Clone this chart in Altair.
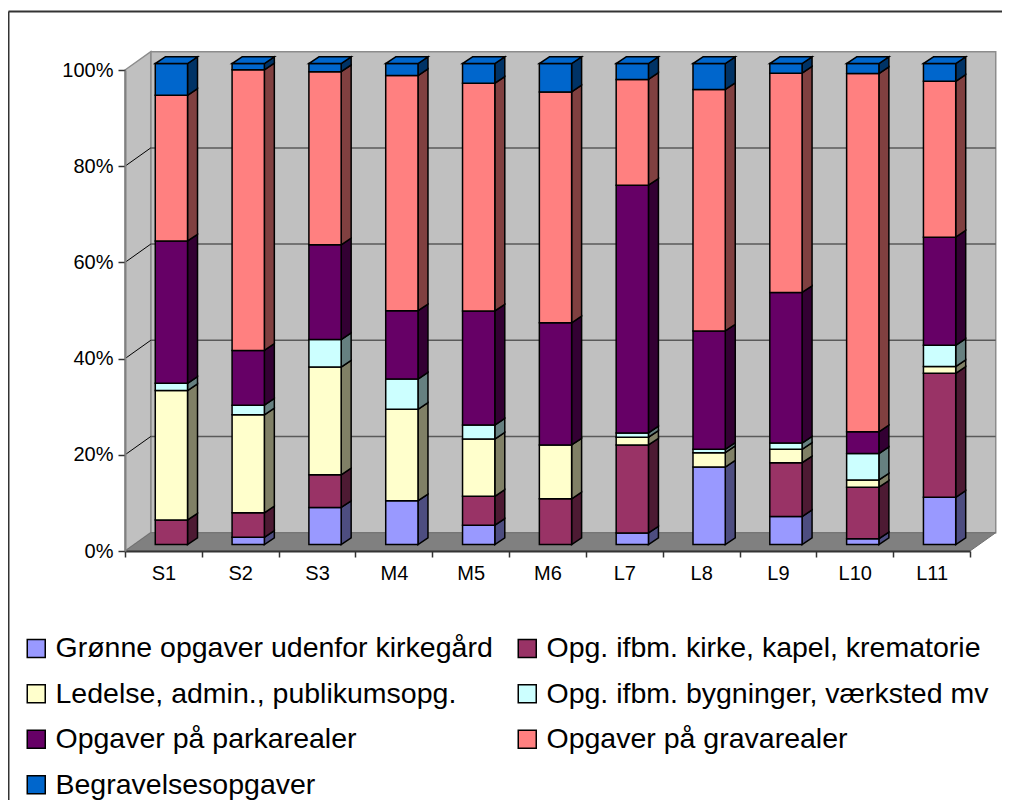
import json
import altair as alt
import pandas as pd

# ---------------- data ----------------
categories = ["S1", "S2", "S3", "M4", "M5", "M6", "L7", "L8", "L9", "L10", "L11"]
series_names = [
    "Grønne opgaver udenfor kirkegård",
    "Opg. ifbm. kirke, kapel, krematorie",
    "Ledelse, admin., publikumsopg.",
    "Opg. ifbm. bygninger, værksted mv",
    "Opgaver på parkarealer",
    "Opgaver på gravarealer",
    "Begravelsesopgaver",
]
gronne = [0.0, 1.5, 7.7, 9.1, 4.0, 0.0, 2.4, 16.1, 5.8, 1.2, 9.8]
kirke = [5.1, 5.1, 6.8, 0.0, 6.0, 9.5, 18.3, 0.0, 11.2, 10.7, 25.8]
ledelse = [26.9, 20.4, 22.4, 19.0, 11.9, 11.2, 1.6, 3.0, 2.8, 1.5, 1.4]
bygninger = [1.5, 2.0, 5.7, 6.3, 2.9, 0.0, 0.9, 0.7, 1.3, 5.5, 4.4]
park = [29.6, 11.4, 19.7, 14.2, 23.7, 25.4, 51.5, 24.6, 31.3, 4.5, 22.5]
grav = [30.3, 58.4, 36.0, 48.9, 47.3, 48.0, 22.0, 50.2, 45.6, 74.4, 32.4]
begrav = [6.6, 1.3, 1.7, 2.5, 4.1, 5.9, 3.3, 5.4, 2.0, 2.1, 3.7]
series_values = [gronne, kirke, ledelse, bygninger, park, grav, begrav]
y_ticks = [0, 20, 40, 60, 80, 100]

# ---------------- style ----------------
front_colors = ["#9999FF", "#993366", "#FFFFCC", "#CCFFFF", "#660066", "#FF8080", "#0066CC"]
side_colors = ["#4D4D80", "#4D1A33", "#808066", "#668080", "#330033", "#804040", "#003366"]
FONT = "Liberation Sans"
N = len(categories)
PLOT_W, PLOT_H = 845, 481
PAD = {"left": 117, "top": 62, "right": 32, "bottom": 249}
BAR_W = 0.42            # front face width (category units)
BX, BY = 0.104, 1.35    # bar recess from the front plane
DX, DY = 0.130, 1.39    # bar depth
WX, WY = 0.335, 3.80    # wall depth

# legend is laid out column by column: order entries so rows read like the original
legend_order = series_names[0::2] + series_names[1::2]

# ---------------- geometry tables ----------------
front_rows, side_rows, top_rows = [], [], []
for i, cat in enumerate(categories):
    vals = [s[i] for s in series_values]
    total = sum(vals)
    xl = i + 0.5 - BAR_W / 2 + BX
    xr = xl + BAR_W
    last = max(k for k, v in enumerate(vals) if v > 0)
    cum = 0.0
    for k, (name, v) in enumerate(zip(series_names, vals)):
        if v <= 0:
            continue
        y0 = cum / total * 100
        cum += v
        y1 = cum / total * 100
        front_rows.append(dict(cat=cat, series=name, x=xl, x2=xr, y=y0 + BY, y2=y1 + BY, value=v))
        seg = f"{cat}-{k}"
        side_rows.append(dict(seg=seg, series=name, x=xr, lo=y0 + BY, hi=y1 + BY))
        side_rows.append(dict(seg=seg, series=name, x=xr + DX, lo=y0 + BY + DY, hi=y1 + BY + DY))
        if k == last:
            top_rows.append(dict(seg=cat, y=y1 + BY, xa=xl, xb=xr))
            top_rows.append(dict(seg=cat, y=y1 + BY + DY, xa=xl + DX, xb=xr + DX))

front_df = pd.DataFrame(front_rows)
side_df = pd.DataFrame(side_rows)
top_df = pd.DataFrame(top_rows)

ymax = max(y_ticks)
wall_df = pd.DataFrame([dict(x=WX, x2=N + WX, y=WY, y2=ymax + WY)])
sidewall_df = pd.DataFrame([dict(x=0, lo=0, hi=ymax), dict(x=WX, lo=WY, hi=ymax + WY)])
floor_df = pd.DataFrame([
    dict(x=0, lo=0, hi=0), dict(x=WX, lo=0, hi=WY),
    dict(x=N, lo=0, hi=WY), dict(x=N + WX, lo=WY, hi=WY)])
grid_df = pd.DataFrame([dict(x=WX, x2=N + WX, y=t + WY) for t in y_ticks[1:-1]])
diag_df = pd.DataFrame([dict(x=0, x2=WX, y=t, y2=t + WY) for t in y_ticks[1:-1]])

# ---------------- scales / axes ----------------
xs = alt.Scale(domain=[0, N], nice=False, zero=False)
ys = alt.Scale(domain=[0, ymax], nice=False, zero=True)
cat_expr = json.dumps(categories)
x_axis = alt.Axis(values=list(range(N + 1)),
                  labelExpr=f"datum.value < {N} ? {cat_expr}[datum.value] : ''",
                  title=None, grid=False, tickSize=6, tickColor="#333333", tickWidth=1.5,
                  domainColor="#333333", domainWidth=2, labelFontSize=20, labelFont=FONT,
                  labelColor="black", labelOffset=PLOT_W / N / 2, labelPadding=6,
                  labelFlush=False, labelOverlap=False, zindex=1)
y_axis = alt.Axis(values=y_ticks, labelExpr="datum.value + '%'", title=None, grid=False,
                  tickSize=7, tickColor="#333333", tickWidth=1.5, domainColor="#808080",
                  domainWidth=2, labelFontSize=20, labelFont=FONT, labelColor="black",
                  labelPadding=5, zindex=1)


def X(f):
    return alt.X(f, scale=xs, axis=x_axis)


def Y(f):
    return alt.Y(f, scale=ys, axis=y_axis)


wall = alt.Chart(wall_df).mark_rect(fill="#C0C0C0", stroke="#8C8C8C", strokeWidth=1.5).encode(
    x=X("x:Q"), x2="x2:Q", y=Y("y:Q"), y2="y2:Q")
sidewall = alt.Chart(sidewall_df).mark_area(fill="#C0C0C0", stroke="#8C8C8C", strokeWidth=1.5,
                                            orient="vertical").encode(
    x=X("x:Q"), y=Y("hi:Q"), y2="lo:Q")
floor = alt.Chart(floor_df).mark_area(fill="#808080", stroke="#707070", strokeWidth=1,
                                      orient="vertical").encode(
    x=X("x:Q"), y=Y("hi:Q"), y2="lo:Q")
grid = alt.Chart(grid_df).mark_rule(color="#5A5A5A", strokeWidth=1.5).encode(
    x=X("x:Q"), x2="x2:Q", y=Y("y:Q"))
diag = alt.Chart(diag_df).mark_rule(color="black", strokeWidth=1).encode(
    x=X("x:Q"), x2="x2:Q", y=Y("y:Q"), y2="y2:Q")

sides = alt.Chart(side_df).mark_area(stroke="black", strokeWidth=1.5, orient="vertical").encode(
    x=X("x:Q"), y=Y("hi:Q"), y2="lo:Q",
    fill=alt.Fill("series:N", scale=alt.Scale(domain=series_names, range=side_colors), legend=None),
    detail="seg:N")

legend = alt.Legend(orient="none", legendX=-103, legendY=564, columns=2, values=legend_order,
                    symbolType="square", symbolSize=324, symbolStrokeColor="black",
                    symbolStrokeWidth=1.5, labelFontSize=28.5, labelFont=FONT, labelColor="black",
                    labelOffset=5, rowPadding=16.5, columnPadding=20, title=None,
                    labelLimit=700, padding=0)
fronts = alt.Chart(front_df).mark_rect(stroke="black", strokeWidth=1.5).encode(
    x=X("x:Q"), x2="x2:Q", y=Y("y:Q"), y2="y2:Q",
    fill=alt.Fill("series:N", scale=alt.Scale(domain=series_names, range=front_colors), legend=legend),
    tooltip=["cat:N", "series:N", "value:Q"])
tops = alt.Chart(top_df).mark_area(orient="horizontal", fill=front_colors[-1], stroke="black",
                                   strokeWidth=1.5).encode(
    y=Y("y:Q"), x=X("xa:Q"), x2="xb:Q", detail="seg:N")

dummy = pd.DataFrame([{"k": 0}])
frame_top = alt.Chart(dummy).mark_rule(color="#333333", strokeWidth=2).encode(
    x=alt.value(-116.5), x2=alt.value(PLOT_W + PAD["right"]), y=alt.value(-58.5))
frame_left = alt.Chart(dummy).mark_rule(color="#333333", strokeWidth=2).encode(
    x=alt.value(-116.5), y=alt.value(-58.5), y2=alt.value(PLOT_H + PAD["bottom"]))

chart = alt.layer(
    wall, sidewall, floor, grid, diag, sides, fronts, tops, frame_top, frame_left
).resolve_scale(fill="independent").properties(
    width=PLOT_W, height=PLOT_H,
    autosize=alt.AutoSizeParams(type="none"),
    padding=PAD,
    background="white",
).configure_view(stroke=None)

chart.save("out.html", embed_options={"renderer": "svg", "actions": False})
